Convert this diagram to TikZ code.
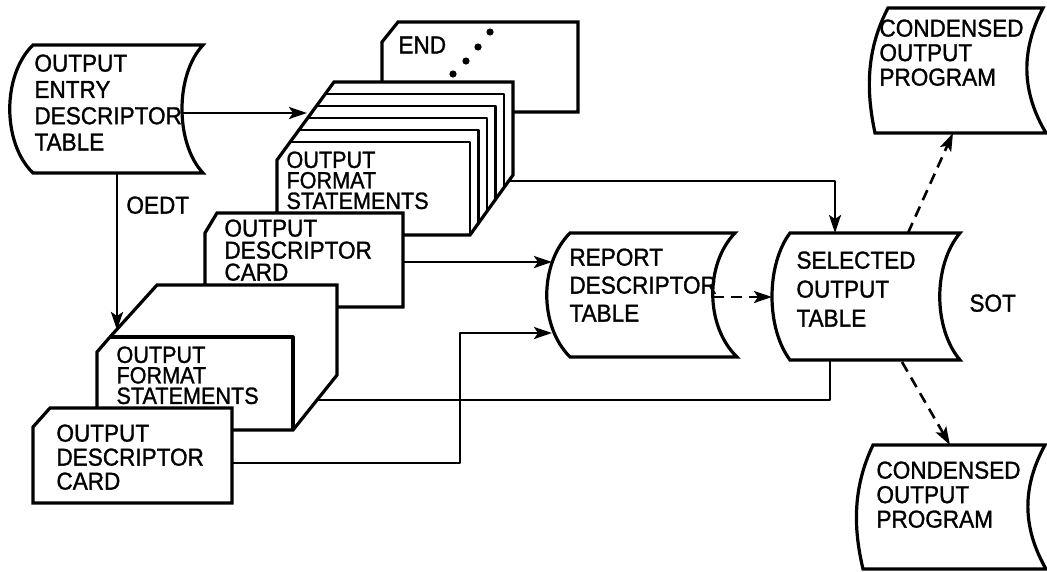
\documentclass[tikz,border=0pt]{standalone}
\usepackage{fontspec}
\newfontfamily\labfont[FakeStretch=0.92,FakeBold=1.2]{Liberation Sans}
\usetikzlibrary{arrows.meta}
\newcommand{\labsize}[1]{\labfont\fontsize{24.5}{#1}\selectfont}
\newcommand{\labsmall}[1]{\labfont\fontsize{23.5}{#1}\selectfont}
\begin{document}
\begin{tikzpicture}[x=1pt,y=-1pt,line width=3pt,line join=round,
  shp/.style={draw=black,fill=white,line width=3.2pt,line join=miter},
  conn/.style={line width=2.6pt},
  arr/.style={-{Stealth[length=18pt,width=12pt,inset=4pt]}},
  dsh/.style={dash pattern=on 11pt off 7pt},
  lbl/.style={anchor=north west,inner sep=0pt,align=left}]
\fill[white] (0,0) rectangle (1047,571);
\useasboundingbox (0,0) rectangle (1047,571);

% ---- OEDT tape
\draw[shp] (33,45) -- (203,45) .. controls (175,75) and (175,143) .. (203,173)
  -- (33,173) .. controls (2,143) and (2,75) .. (33,45) -- cycle;
\node[lbl,font=\labsize{26.3}] (oedt) at (33,53) {OUTPUT\\ENTRY\\DESCRIPTOR\\TABLE};
\coordinate (oedtR) at (182,113);
\coordinate (oedtB) at (117,173);
\node[lbl,font=\labsize{26}] (oedtlab) at (125,195) {OEDT};

% ---- END card
\draw[shp] (382,112) -- (382,42) -- (398,22) -- (578,22) -- (578,112) -- cycle;
\node[lbl,font=\labsize{26}] (endt) at (397,35) {END};
\fill (453,74) circle (3.6pt) (466,61) circle (3.6pt) (478,47) circle (3.6pt) (490,32) circle (3.6pt);

% ---- top deck
\draw[shp] (277,235) -- (277,160) -- (334,82) -- (513,82) -- (513,175) -- (470,235) -- cycle;
\foreach \k in {0,1,2,3,4}{
  \pgfmathsetmacro{\yy}{142-12*\k}
  \pgfmathsetmacro{\xl}{277+(160-\yy)*57/78}
  \pgfmathsetmacro{\xr}{470+8.5*\k}
  \pgfmathsetmacro{\yb}{235-12*\k}
  \draw[line width=2.8pt] (\xl,\yy) -- (\xr,\yy) -- (\xr,\yb);
}
\node[lbl,font=\labsmall{20.5}] (deck) at (285,150) {OUTPUT\\FORMAT\\STATEMENTS};
\coordinate (deckR) at (509,181);
\coordinate (deckL) at (307,113);

% ---- upper descriptor card
\draw[shp] (205,307) -- (205,233) -- (217,213) -- (403,213) -- (403,307) -- cycle;
\node[lbl,font=\labsize{22}] (card1) at (223,218) {OUTPUT\\DESCRIPTOR\\CARD};
\coordinate (card1R) at (403,262);

% ---- lower deck
\draw[shp] (97,430) -- (97,352) -- (110,337) -- (157,285) -- (337,285) -- (337,375) -- (293,430) -- cycle;
\draw[line width=3.2pt] (110,337) -- (293,337) -- (293,430);
\node[lbl,font=\labsmall{20.5}] (deck2) at (115,345) {OUTPUT\\FORMAT\\STATEMENTS};
\coordinate (deck2T) at (117,330);
\coordinate (deck2R) at (317,400);

% ---- lower descriptor card
\draw[shp] (33,503) -- (33,427) -- (50,408) -- (232,408) -- (232,503) -- cycle;
\node[lbl,font=\labsize{24}] (card2) at (55,423) {OUTPUT\\DESCRIPTOR\\CARD};
\coordinate (card2R) at (232,463);

% ---- report descriptor table
\draw[shp] (570,233) -- (735,233) .. controls (705,264) and (705,326) .. (737,357)
  -- (570,357) .. controls (539,326) and (539,264) .. (570,233) -- cycle;
\node[lbl,font=\labsize{28}] (rdt) at (568,247) {REPORT\\DESCRIPTOR\\TABLE};
\coordinate (rdtA) at (552,262);
\coordinate (rdtB) at (552,333);
\coordinate (rdtR) at (713,297);

% ---- selected output table
\draw[shp] (790,233) -- (960,233) .. controls (933,265) and (933,328) .. (960,360)
  -- (790,360) .. controls (766,328) and (766,265) .. (790,233) -- cycle;
\node[lbl,font=\labsize{29}] (sot) at (795,250) {SELECTED\\OUTPUT\\TABLE};
\node[lbl,font=\labsize{26}] (sotlab) at (968,293) {SOT};
\coordinate (sotL) at (772,297);
\coordinate (sotT) at (835,233);
\coordinate (sotB) at (830,360);
\coordinate (sotTR) at (908,233);
\coordinate (sotBR) at (902,362);

% ---- condensed output program (top)
\draw[shp] (888,8) -- (1043,8) .. controls (1021,50) and (1021,91) .. (1046,133)
  -- (875,133) .. controls (866,91) and (866,50) .. (888,8) -- cycle;
\node[lbl,font=\labsize{24.5}] (cop1) at (878,18) {CONDENSED\\OUTPUT\\PROGRAM};
\coordinate (cop1B) at (953,133);

% ---- condensed output program (bottom)
\draw[shp] (873,445) -- (1045,445) .. controls (1022,487) and (1022,527) .. (1046,569)
  -- (863,569) .. controls (853,527) and (853,487) .. (873,445) -- cycle;
\node[lbl,font=\labsize{24.5}] (cop2) at (875,460) {CONDENSED\\OUTPUT\\PROGRAM};
\coordinate (cop2T) at (950,445);

% ---- connectors
\draw[conn,arr] (oedtR) -- (deckL);
\draw[conn,arr] (oedtB) -- (deck2T);
\draw[conn,arr] (deckR) -| (sotT);
\draw[conn,arr] (card1R) -- (rdtA);
\draw[conn,arr] (card2R) -- (460,463) |- (rdtB);
\draw[conn] (deck2R) -| (sotB);
\draw[conn,arr,dsh] (rdtR) -- (sotL);
\draw[conn,arr,dsh] (sotTR) -- (cop1B);
\draw[conn,arr,dsh] (sotBR) -- (cop2T);
\end{tikzpicture}
\end{document}
